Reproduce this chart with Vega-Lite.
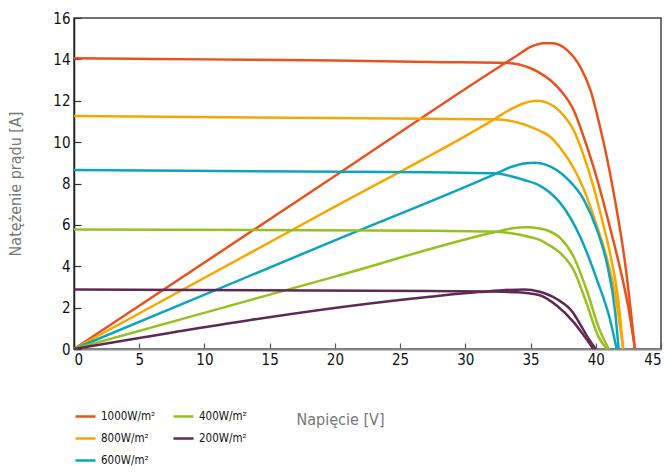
{
  "$schema": "https://vega.github.io/schema/vega-lite/v6.json",
  "width": 587,
  "height": 331,
  "autosize": {"type": "none"},
  "padding": {"left": 74, "top": 18, "right": 4, "bottom": 123},
  "background": "white",
  "config": {
    "view": {"stroke": "#444", "strokeWidth": 1.5},
    "font": "DejaVu Sans Condensed"
  },
  "data": {"values": [
    {"irr":"1000W/m²","curve":"I","V":0,"I":14.05},
    {"irr":"1000W/m²","curve":"I","V":10,"I":14.0},
    {"irr":"1000W/m²","curve":"I","V":20,"I":13.94},
    {"irr":"1000W/m²","curve":"I","V":27.3,"I":13.87},
    {"irr":"1000W/m²","curve":"I","V":33.2,"I":13.83},
    {"irr":"1000W/m²","curve":"I","V":35.0,"I":13.57},
    {"irr":"1000W/m²","curve":"I","V":35.7,"I":13.35},
    {"irr":"1000W/m²","curve":"I","V":36.5,"I":13.0},
    {"irr":"1000W/m²","curve":"I","V":37.3,"I":12.5},
    {"irr":"1000W/m²","curve":"I","V":38.3,"I":11.55},
    {"irr":"1000W/m²","curve":"I","V":39.1,"I":10.2},
    {"irr":"1000W/m²","curve":"I","V":39.8,"I":8.85},
    {"irr":"1000W/m²","curve":"I","V":40.5,"I":7.3},
    {"irr":"1000W/m²","curve":"I","V":41.2,"I":5.6},
    {"irr":"1000W/m²","curve":"I","V":41.9,"I":3.8},
    {"irr":"1000W/m²","curve":"I","V":42.5,"I":2.0},
    {"irr":"1000W/m²","curve":"I","V":43.0,"I":0},
    {"irr":"1000W/m²","curve":"P","V":0,"I":0},
    {"irr":"1000W/m²","curve":"P","V":20,"I":8.36},
    {"irr":"1000W/m²","curve":"P","V":33.0,"I":13.8},
    {"irr":"1000W/m²","curve":"P","V":34.0,"I":14.2},
    {"irr":"1000W/m²","curve":"P","V":35.0,"I":14.6},
    {"irr":"1000W/m²","curve":"P","V":36.0,"I":14.78},
    {"irr":"1000W/m²","curve":"P","V":36.7,"I":14.78},
    {"irr":"1000W/m²","curve":"P","V":37.8,"I":14.45},
    {"irr":"1000W/m²","curve":"P","V":38.8,"I":13.65},
    {"irr":"1000W/m²","curve":"P","V":39.6,"I":12.5},
    {"irr":"1000W/m²","curve":"P","V":40.3,"I":10.8},
    {"irr":"1000W/m²","curve":"P","V":40.9,"I":9.1},
    {"irr":"1000W/m²","curve":"P","V":41.5,"I":7.1},
    {"irr":"1000W/m²","curve":"P","V":42.25,"I":4.14},
    {"irr":"1000W/m²","curve":"P","V":43.0,"I":0},
    {"irr":"800W/m²","curve":"I","V":0,"I":11.26},
    {"irr":"800W/m²","curve":"I","V":27.3,"I":11.13},
    {"irr":"800W/m²","curve":"I","V":32.2,"I":11.1},
    {"irr":"800W/m²","curve":"I","V":34.0,"I":10.95},
    {"irr":"800W/m²","curve":"I","V":35.0,"I":10.74},
    {"irr":"800W/m²","curve":"I","V":35.7,"I":10.55},
    {"irr":"800W/m²","curve":"I","V":36.5,"I":10.26},
    {"irr":"800W/m²","curve":"I","V":37.3,"I":9.7},
    {"irr":"800W/m²","curve":"I","V":38.3,"I":8.75},
    {"irr":"800W/m²","curve":"I","V":39.1,"I":7.7},
    {"irr":"800W/m²","curve":"I","V":40.0,"I":6.1},
    {"irr":"800W/m²","curve":"I","V":40.8,"I":4.5},
    {"irr":"800W/m²","curve":"I","V":41.5,"I":2.6},
    {"irr":"800W/m²","curve":"I","V":42.1,"I":0},
    {"irr":"800W/m²","curve":"P","V":0,"I":0},
    {"irr":"800W/m²","curve":"P","V":20,"I":6.88},
    {"irr":"800W/m²","curve":"P","V":32.2,"I":11.1},
    {"irr":"800W/m²","curve":"P","V":33.5,"I":11.6},
    {"irr":"800W/m²","curve":"P","V":34.5,"I":11.88},
    {"irr":"800W/m²","curve":"P","V":35.5,"I":12.0},
    {"irr":"800W/m²","curve":"P","V":36.3,"I":11.9},
    {"irr":"800W/m²","curve":"P","V":37.3,"I":11.45},
    {"irr":"800W/m²","curve":"P","V":38.3,"I":10.58},
    {"irr":"800W/m²","curve":"P","V":39.1,"I":9.3},
    {"irr":"800W/m²","curve":"P","V":39.8,"I":7.9},
    {"irr":"800W/m²","curve":"P","V":40.5,"I":6.2},
    {"irr":"800W/m²","curve":"P","V":41.2,"I":4.3},
    {"irr":"800W/m²","curve":"P","V":41.7,"I":2.5},
    {"irr":"800W/m²","curve":"P","V":42.1,"I":0},
    {"irr":"600W/m²","curve":"I","V":0,"I":8.65},
    {"irr":"600W/m²","curve":"I","V":27.3,"I":8.54},
    {"irr":"600W/m²","curve":"I","V":32.2,"I":8.49},
    {"irr":"600W/m²","curve":"I","V":33.5,"I":8.35},
    {"irr":"600W/m²","curve":"I","V":34.5,"I":8.17},
    {"irr":"600W/m²","curve":"I","V":35.7,"I":7.9},
    {"irr":"600W/m²","curve":"I","V":36.5,"I":7.55},
    {"irr":"600W/m²","curve":"I","V":37.3,"I":7.04},
    {"irr":"600W/m²","curve":"I","V":38.8,"I":5.43},
    {"irr":"600W/m²","curve":"I","V":40.1,"I":3.33},
    {"irr":"600W/m²","curve":"I","V":41.1,"I":1.4},
    {"irr":"600W/m²","curve":"I","V":41.6,"I":0},
    {"irr":"600W/m²","curve":"P","V":0,"I":0},
    {"irr":"600W/m²","curve":"P","V":20,"I":5.25},
    {"irr":"600W/m²","curve":"P","V":32.4,"I":8.49},
    {"irr":"600W/m²","curve":"P","V":33.5,"I":8.8},
    {"irr":"600W/m²","curve":"P","V":34.5,"I":8.97},
    {"irr":"600W/m²","curve":"P","V":35.3,"I":9.0},
    {"irr":"600W/m²","curve":"P","V":36.2,"I":8.9},
    {"irr":"600W/m²","curve":"P","V":37.0,"I":8.65},
    {"irr":"600W/m²","curve":"P","V":37.9,"I":8.17},
    {"irr":"600W/m²","curve":"P","V":39.1,"I":7.2},
    {"irr":"600W/m²","curve":"P","V":40.1,"I":5.75},
    {"irr":"600W/m²","curve":"P","V":40.85,"I":4.14},
    {"irr":"600W/m²","curve":"P","V":41.5,"I":1.72},
    {"irr":"600W/m²","curve":"P","V":41.75,"I":0},
    {"irr":"400W/m²","curve":"I","V":0,"I":5.78},
    {"irr":"400W/m²","curve":"I","V":27.3,"I":5.72},
    {"irr":"400W/m²","curve":"I","V":32.4,"I":5.67},
    {"irr":"400W/m²","curve":"I","V":34.0,"I":5.55},
    {"irr":"400W/m²","curve":"I","V":35.0,"I":5.4},
    {"irr":"400W/m²","curve":"I","V":35.7,"I":5.27},
    {"irr":"400W/m²","curve":"I","V":36.2,"I":5.1},
    {"irr":"400W/m²","curve":"I","V":37.3,"I":4.63},
    {"irr":"400W/m²","curve":"I","V":38.3,"I":3.82},
    {"irr":"400W/m²","curve":"I","V":39.3,"I":2.2},
    {"irr":"400W/m²","curve":"I","V":40.2,"I":0.6},
    {"irr":"400W/m²","curve":"I","V":40.85,"I":0},
    {"irr":"400W/m²","curve":"P","V":0,"I":0},
    {"irr":"400W/m²","curve":"P","V":20,"I":3.5},
    {"irr":"400W/m²","curve":"P","V":32.4,"I":5.67},
    {"irr":"400W/m²","curve":"P","V":33.5,"I":5.82},
    {"irr":"400W/m²","curve":"P","V":34.7,"I":5.88},
    {"irr":"400W/m²","curve":"P","V":35.7,"I":5.83},
    {"irr":"400W/m²","curve":"P","V":36.2,"I":5.75},
    {"irr":"400W/m²","curve":"P","V":37.3,"I":5.35},
    {"irr":"400W/m²","curve":"P","V":38.3,"I":4.46},
    {"irr":"400W/m²","curve":"P","V":39.3,"I":2.85},
    {"irr":"400W/m²","curve":"P","V":40.3,"I":0.92},
    {"irr":"400W/m²","curve":"P","V":41.0,"I":0},
    {"irr":"200W/m²","curve":"I","V":0,"I":2.88},
    {"irr":"200W/m²","curve":"I","V":27.3,"I":2.8},
    {"irr":"200W/m²","curve":"I","V":31.9,"I":2.78},
    {"irr":"200W/m²","curve":"I","V":34.0,"I":2.74},
    {"irr":"200W/m²","curve":"I","V":35.7,"I":2.6},
    {"irr":"200W/m²","curve":"I","V":37.0,"I":2.1},
    {"irr":"200W/m²","curve":"I","V":38.3,"I":1.3},
    {"irr":"200W/m²","curve":"I","V":39.2,"I":0.55},
    {"irr":"200W/m²","curve":"I","V":39.8,"I":0},
    {"irr":"200W/m²","curve":"P","V":0,"I":0},
    {"irr":"200W/m²","curve":"P","V":27.3,"I":2.53},
    {"irr":"200W/m²","curve":"P","V":31.0,"I":2.75},
    {"irr":"200W/m²","curve":"P","V":34.5,"I":2.88},
    {"irr":"200W/m²","curve":"P","V":35.7,"I":2.77},
    {"irr":"200W/m²","curve":"P","V":37.0,"I":2.42},
    {"irr":"200W/m²","curve":"P","V":38.3,"I":1.72},
    {"irr":"200W/m²","curve":"P","V":38.8,"I":1.2},
    {"irr":"200W/m²","curve":"P","V":39.5,"I":0.45},
    {"irr":"200W/m²","curve":"P","V":40.0,"I":0}
  ]},
  "mark": {"type": "line", "interpolate": "monotone", "strokeWidth": 2.5, "clip": false},
  "encoding": {
    "x": {
      "field": "V", "type": "quantitative",
      "scale": {"domain": [0, 45], "nice": false, "zero": false},
      "axis": {
        "values": [0,5,10,15,20,25,30,35,40,45],
        "title": "Napięcie [V]",
        "titleFont": "DejaVu Sans Condensed", "titleFontSize": 16, "titleFontWeight": "normal", "titleColor": "#777",
        "titleX": 266, "titleY": 70, "titleAlign": "center", "titleBaseline": "middle",
        "labelFont": "DejaVu Sans Condensed", "labelFontSize": 15, "labelColor": "#111",
        "labelPadding": 9,
        "domainColor": "#888", "domainWidth": 2,
        "tickColor": "#555", "tickSize": -6, "tickWidth": 1.2,
        "grid": false
      }
    },
    "y": {
      "field": "I", "type": "quantitative",
      "scale": {"domain": [0, 16], "nice": false},
      "axis": {
        "values": [0,2,4,6,8,10,12,14,16],
        "title": "Natężenie prądu [A]",
        "titleFont": "DejaVu Sans Condensed", "titleFontSize": 16, "titleFontWeight": "normal", "titleColor": "#777",
        "titlePadding": 29,
        "labelFont": "DejaVu Sans Condensed", "labelFontSize": 15, "labelColor": "#111",
        "labelPadding": 11,
        "domainColor": "#222", "domainWidth": 1.5,
        "tickColor": "#333", "tickSize": -7, "tickWidth": 1.2,
        "grid": false
      }
    },
    "color": {
      "field": "irr", "type": "nominal",
      "scale": {
        "domain": ["1000W/m²","800W/m²","600W/m²","400W/m²","200W/m²"],
        "range": ["#E8531D","#F6A800","#0DA5BE","#97C11F","#5E2A54"]
      },
      "legend": {
        "orient": "none", "legendX": 0, "legendY": 387,
        "columns": 2, "title": null,
        "symbolType": "stroke", "symbolSize": 400, "symbolStrokeWidth": 2.5,
        "labelFont": "DejaVu Sans Condensed", "labelFontSize": 11.5, "labelColor": "#111",
        "rowPadding": 5, "columnPadding": 12, "padding": 0, "labelOffset": 4
      }
    },
    "detail": {"field": "curve", "type": "nominal"}
  }
}
